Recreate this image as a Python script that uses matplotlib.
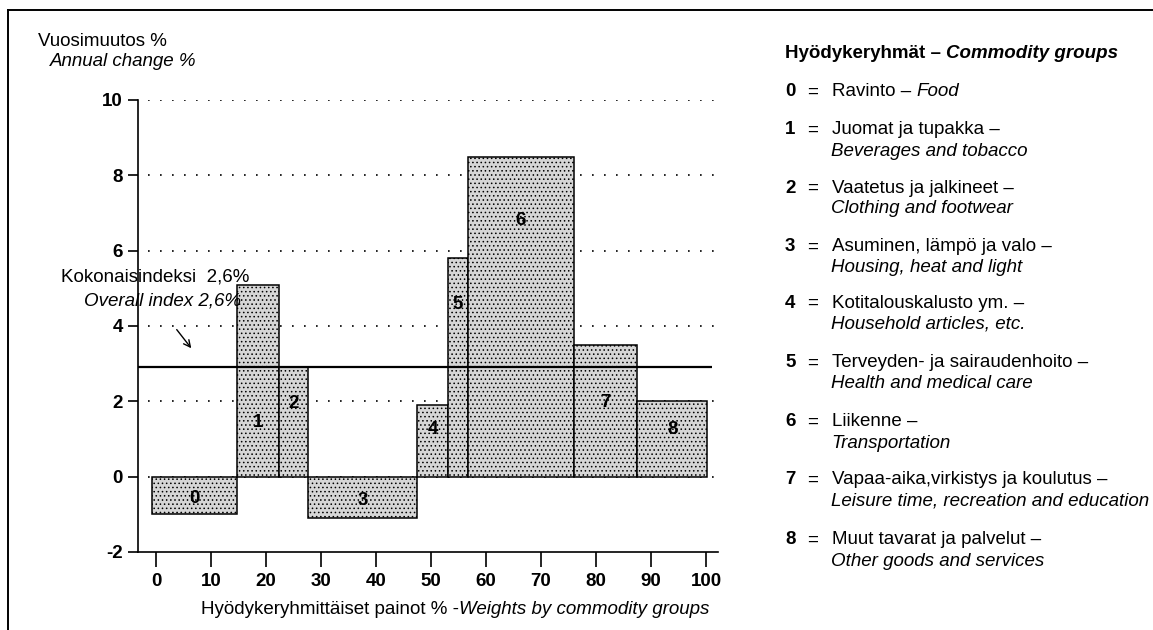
import matplotlib
matplotlib.use("Agg")
import matplotlib.pyplot as plt
from matplotlib.lines import Line2D
import numpy as np

# ---------------- data ----------------
categories = ['0', '1', '2', '3', '4', '5', '6', '7', '8']
weights = [15.5, 7.7, 5.2, 19.9, 5.6, 3.6, 19.3, 11.5, 12.7]   # % weights
changes = [-1.0, 5.1, 2.9, -1.1, 1.9, 5.8, 8.5, 3.5, 2.0]      # annual change %
index_level = 2.9            # drawn level of overall index line
index_label = '2,6%'
x_ticks = [0, 10, 20, 30, 40, 50, 60, 70, 80, 90, 100]
y_ticks = [-2, 0, 2, 4, 6, 8, 10]

legend_fi = ['Ravinto', 'Juomat ja tupakka –', 'Vaatetus ja jalkineet –',
             'Asuminen, lämpö ja valo –', 'Kotitalouskalusto ym. –',
             'Terveyden- ja sairaudenhoito –', 'Liikenne –',
             'Vapaa-aika,virkistys ja koulutus –', 'Muut tavarat ja palvelut –']
legend_en = ['Food', 'Beverages and tobacco', 'Clothing and footwear',
             'Housing, heat and light', 'Household articles, etc.',
             'Health and medical care', 'Transportation',
             'Leisure time, recreation and education', 'Other goods and services']

# ---------------- layout ----------------
W, H = 1153, 630
FS = 13.5
FONT = 'Liberation Sans'
plt.rcParams['font.family'] = [FONT, 'DejaVu Sans']

x_start = -0.8
label_frac = [0.58, 0.28, 0.67, 0.58, 0.66, 0.79, 0.80, 0.56, 0.62]

fig = plt.figure(figsize=(W / 100, H / 100), dpi=100)


def fx(px):
    return px / W


def fy(py):
    return 1 - py / H


ax = fig.add_axes([fx(138), fy(552), fx(718) - fx(138), fy(100) - fy(552)])
ax.set_xlim((138 - 156) / 5.5, (718 - 156) / 5.5)
ax.set_ylim(-2, 10)

lefts = x_start + np.concatenate([[0], np.cumsum(weights)[:-1]])
ax.bar(lefts, changes, width=weights, align='edge', facecolor='#d6d6d6',
       edgecolor='black', linewidth=1.1, hatch='....', zorder=3)
plt.rcParams['hatch.color'] = '#9a9a9a'
for b in ax.patches:
    b.set_hatch_linewidth(0.6) if hasattr(b, 'set_hatch_linewidth') else None

# bar numbers
for i, (l, w, v) in enumerate(zip(lefts, weights, changes)):
    ax.text(l + w / 2, v * label_frac[i], categories[i], ha='center', va='center',
            fontsize=FS, fontweight='bold', zorder=5)

# dotted grid lines
gx0 = (148 - 156) / 5.5
for yv in y_ticks[1:]:
    ax.plot([gx0, ax.get_xlim()[1]], [yv, yv], color='black', lw=1.2,
            linestyle=(0, (1.0, 6.2)), zorder=1)

# overall index line
ax.plot([ax.get_xlim()[0], (712 - 156) / 5.5], [index_level, index_level],
        color='black', lw=1.6, zorder=4, solid_capstyle='butt')

# arrow
ax.annotate('', xy=((193 - 156) / 5.5, (476 - 350) / 37.6),
            xytext=((175 - 156) / 5.5, (476 - 327) / 37.6),
            arrowprops=dict(arrowstyle='->', lw=1.0, color='black',
                            mutation_scale=12), zorder=5)

# spines and ticks
for s in ['top', 'right']:
    ax.spines[s].set_visible(False)
ax.spines['left'].set_linewidth(1.2)
ax.spines['bottom'].set_linewidth(1.2)
ax.set_xticks(x_ticks)
ax.set_yticks(y_ticks)
ax.set_xticklabels([str(t) for t in x_ticks], fontsize=FS, fontweight='bold')
ax.set_yticklabels([str(t) for t in y_ticks], fontsize=FS, fontweight='bold')
ax.tick_params(axis='x', direction='out', length=11, width=1.2, pad=4)
ax.tick_params(axis='y', direction='out', length=7, width=1.2, pad=4)
ax.patch.set_visible(False)

# ---------------- texts ----------------
fig.text(fx(38), fy(42), 'Vuosimuutos %', fontsize=FS, va='center', ha='left')
fig.text(fx(50), fy(62), 'Annual change %', fontsize=FS, va='center', ha='left',
         style='italic')
fig.text(fx(61), fy(277), 'Kokonaisindeksi  ' + index_label, fontsize=FS,
         va='center', ha='left')
fig.text(fx(84), fy(301), 'Overall index ' + index_label, fontsize=FS,
         va='center', ha='left', style='italic')

fig.canvas.draw()
renderer = fig.canvas.get_renderer()


def two_part(x, y, t1, t2, w1='normal', w2='normal', s1='normal', s2='italic'):
    a = fig.text(fx(x), fy(y), t1, fontsize=FS, va='center', ha='left',
                 fontweight=w1, style=s1)
    bb = a.get_window_extent(renderer)
    fig.text(bb.x1 / W, fy(y), t2, fontsize=FS, va='center', ha='left',
             fontweight=w2, style=s2)


# x label
two_part(201, 610, 'Hyödykeryhmittäiset painot % -', 'Weights by commodity groups')

# legend
two_part(785, 53, 'Hyödykeryhmät – ', 'Commodity groups', w1='bold', w2='bold')
item_y = [92, 130, 188, 247, 303, 363, 422, 480, 540]
for i, yy in enumerate(item_y):
    fig.text(fx(785), fy(yy), categories[i], fontsize=FS, va='center',
             ha='left', fontweight='bold')
    fig.text(fx(807), fy(yy), '=', fontsize=FS, va='center', ha='left')
    if i == 0:
        two_part(832, yy, legend_fi[i] + ' – ', legend_en[i])
    else:
        fig.text(fx(832), fy(yy), legend_fi[i], fontsize=FS, va='center',
                 ha='left')
        fig.text(fx(831), fy(yy + 21), legend_en[i], fontsize=FS,
                 va='center', ha='left', style='italic')

# page frame (left and top)
fig.add_artist(Line2D([fx(8), fx(8)], [fy(10), 0], color='black', lw=1.4))
fig.add_artist(Line2D([fx(8), 1], [fy(10), fy(10)], color='black', lw=1.4))

fig.savefig('out.png', dpi=100)
